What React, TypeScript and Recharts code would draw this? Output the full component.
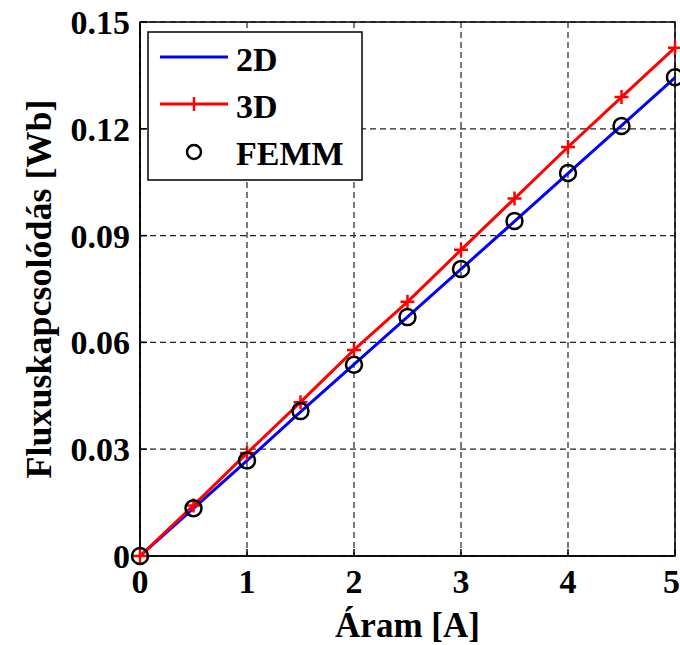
import {
  LineChart,
  Line,
  XAxis,
  YAxis,
  CartesianGrid,
  ReferenceArea,
  Legend,
  Label,
} from 'recharts'

// current [A] and flux linkage [Wb]
const current = [0, 0.5, 1, 1.5, 2, 2.5, 3, 3.5, 4, 4.5, 5]
const flux2D = [0, 0.0134, 0.0268, 0.0405, 0.0538, 0.0672, 0.0806, 0.094, 0.1075, 0.1209, 0.1344]
const flux3D = [0, 0.0142, 0.0289, 0.0432, 0.0579, 0.0714, 0.086, 0.1004, 0.1149, 0.1289, 0.1428]
const fluxFEMM = [0, 0.0134, 0.0268, 0.0407, 0.0537, 0.0671, 0.0806, 0.0941, 0.1076, 0.1208, 0.1345]

const xTicks = [0, 1, 2, 3, 4, 5]
const yTicks = [0, 0.03, 0.06, 0.09, 0.12, 0.15]
const yTickLabels = ['0', '0.03', '0.06', '0.09', '0.12', '0.15']
const seriesNames = ['2D', '3D', 'FEMM']

const data = current.map((x, i) => ({
  x,
  d2: flux2D[i],
  d3: flux3D[i],
  femm: fluxFEMM[i],
}))

const FONT = '"Liberation Serif", "Times New Roman", serif'
const tickStyle = { fill: '#000', fontSize: 34, fontWeight: 700, fontFamily: FONT }

function PlusDot({ cx, cy }: any) {
  if (cx == null || cy == null) return null
  return (
    <path
      d={`M${cx - 7},${cy}H${cx + 7}M${cx},${cy - 7}V${cy + 7}`}
      stroke="#ff0000"
      strokeWidth={2.5}
      fill="none"
    />
  )
}

function CircleDot({ cx, cy }: any) {
  if (cx == null || cy == null) return null
  return <circle cx={cx} cy={cy} r={8} stroke="#000" strokeWidth={2.5} fill="none" />
}

function LegendBox() {
  const textProps = { fontSize: 34, fontWeight: 700, fontFamily: FONT, fill: '#000' }
  return (
    <svg width={217} height={151} style={{ display: 'block' }}>
      <rect x={1} y={1} width={214} height={148} fill="#fff" stroke="#000" strokeWidth={1.5} />
      <line x1={13} y1={26} x2={81} y2={26} stroke="#0000ff" strokeWidth={3} />
      <text x={89} y={40} {...textProps}>{seriesNames[0]}</text>
      <line x1={13} y1={73} x2={81} y2={73} stroke="#ff0000" strokeWidth={3} />
      <path d="M47,66V80" stroke="#ff0000" strokeWidth={2.5} />
      <text x={89} y={87} {...textProps}>{seriesNames[1]}</text>
      <circle cx={47} cy={121} r={7} stroke="#000" strokeWidth={2.5} fill="none" />
      <text x={89} y={134} {...textProps}>{seriesNames[2]}</text>
    </svg>
  )
}

export default function App() {
  return (
    <div style={{ position: 'absolute', left: 0, top: 0, background: '#fff', fontFamily: FONT }}>
      <LineChart
        width={680}
        height={645}
        data={data}
        margin={{ top: 22, right: 5, left: 20, bottom: 0 }}
      >
        <CartesianGrid stroke="#222" strokeDasharray="6 4" strokeWidth={1.2} />
        <XAxis
          dataKey="x"
          type="number"
          domain={[0, 5]}
          ticks={xTicks}
          height={89}
          tick={tickStyle}
          tickSize={-7}
          tickMargin={20}
          tickLine={{ stroke: '#000', strokeWidth: 1.5 }}
          axisLine={{ stroke: '#000', strokeWidth: 1.5 }}
        >
          <Label
            value="Áram [A]"
            position="insideBottom"
            offset={8}
            style={{ fill: '#000', fontSize: 35, fontWeight: 700, fontFamily: FONT }}
          />
        </XAxis>
        <YAxis
          type="number"
          domain={[0, 0.15]}
          ticks={yTicks}
          width={120}
          tick={tickStyle}
          tickFormatter={(v: number) => yTickLabels[yTicks.indexOf(v)]}
          tickSize={-7}
          tickMargin={17}
          tickLine={{ stroke: '#000', strokeWidth: 1.5 }}
          axisLine={{ stroke: '#000', strokeWidth: 1.5 }}
        >
          <Label
            value="Fluxuskapcsolódás [Wb]"
            angle={-90}
            position="insideLeft"
            offset={18}
            style={{ textAnchor: 'middle', fill: '#000', fontSize: 36, fontWeight: 700, fontFamily: FONT }}
          />
        </YAxis>
        <ReferenceArea
          x1={0}
          x2={5}
          y1={0}
          y2={0.15}
          fill="none"
          fillOpacity={0}
          stroke="#000"
          strokeWidth={1.5}
        />
        <Line
          dataKey="d2"
          stroke="#0000ff"
          strokeWidth={3}
          dot={false}
          isAnimationActive={false}
        />
        <Line
          dataKey="d3"
          stroke="#ff0000"
          strokeWidth={3}
          dot={<PlusDot />}
          activeDot={false}
          isAnimationActive={false}
        />
        <Line
          dataKey="femm"
          stroke="none"
          dot={<CircleDot />}
          activeDot={false}
          isAnimationActive={false}
        />
        <Legend
          layout="vertical"
          align="center"
          verticalAlign="middle"
          content={() => <LegendBox />}
          wrapperStyle={{ left: 147, top: 31, width: 217, height: 151 }}
        />
      </LineChart>
    </div>
  )
}
